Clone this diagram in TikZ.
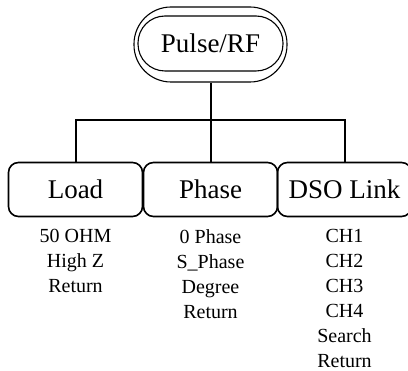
\documentclass[tikz,border=0pt]{standalone}
\usepackage{fontspec}
\setmainfont{Liberation Serif}
\usetikzlibrary{positioning}

\begin{document}
\begin{tikzpicture}[x=1pt, y=1pt,
          menu/.style={rectangle, draw, line width=1.6pt, rounded corners=10pt,
                       minimum width=134pt, minimum height=54pt, inner sep=0pt,
                       font=\fontsize{27}{30}\selectfont},
          items/.style={align=center, inner sep=0pt,
                        font=\fontsize{20}{25}\selectfont},
          link/.style={line width=2pt}
        ]
        \useasboundingbox (0,0) rectangle (408,-371);

        % Top key
        \node[rectangle, draw, line width=1.1pt, rounded corners=27pt,
              minimum width=145pt, minimum height=55pt,
              font=\fontsize{27}{30}\selectfont] (pulse) at (210.5,-43.5) {Pulse/RF};
        \node[rectangle, draw, line width=1.1pt, rounded corners=37pt,
              minimum width=153pt, minimum height=75pt] (pulseout) at (210.5,-44.5) {};

        % Soft keys
        \node[menu] (load) at (75.5,-189.5) {Load};
        \node[menu] (phase) at (210.5,-189.5) {Phase};
        \node[menu] (dso) at (344.5,-189.5) {DSO Link};

        % Tree lines
        \coordinate (split) at (210.5,-120);
        \draw[link] (pulseout.south) -- (split);
        \draw[link] (load.north) |- (split) -| (dso.north);
        \draw[link] (split) -- (phase.north);

        % Menu items
        \node[items, anchor=north, below=12pt of load] (loaditems)
              {50 OHM\\High Z\\Return};
        \node[items, anchor=north, below=12pt of phase] (phaseitems)
              {0 Phase\\S\_Phase\\Degree\\Return};
        \node[items, anchor=north, below=12pt of dso] (dsoitems)
              {CH1\\CH2\\CH3\\CH4\\Search\\Return};
      \end{tikzpicture}
\end{document}
